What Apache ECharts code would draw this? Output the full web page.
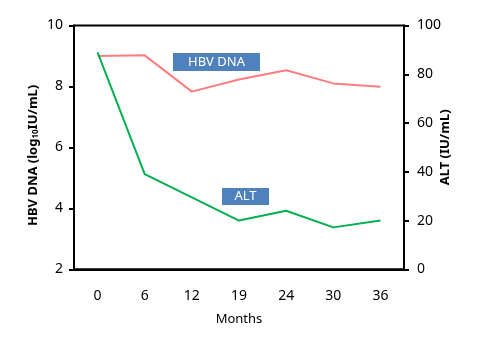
<!DOCTYPE html>
<html><head><meta charset="utf-8">
<script src="https://cdn.jsdelivr.net/npm/echarts@6/dist/echarts.min.js"></script>
<style>html,body{margin:0;padding:0;background:#fff;}#c{width:484px;height:345px;}</style>
</head><body><div id="c"></div>
<script>
const months = ['0', '6', '12', '19', '24', '30', '36'];
const hbvDna = [9.0, 9.02, 7.83, 8.23, 8.53, 8.1, 7.99];
const alt = [89, 39, 29.5, 20, 24, 17.2, 20];
const leftTicks = [2, 4, 6, 8, 10];
const rightTicks = [0, 20, 40, 60, 80, 100];

const FONT = '"Noto Sans", "Open Sans", sans-serif';
const chart = echarts.init(document.getElementById('c'), null, {renderer: 'canvas'});
chart.setOption({
  animation: false,
  backgroundColor: '#fff',
  grid: {left: 74, right: 80, top: 25.5, bottom: 75.7, show: true, borderColor: '#000', borderWidth: 2, backgroundColor: 'transparent'},
  xAxis: {
    type: 'category', data: months, boundaryGap: true,
    name: 'Months', nameLocation: 'middle', nameGap: 43,
    nameTextStyle: {fontFamily: FONT, fontSize: 13, color: '#000'},
    axisLine: {lineStyle: {color: '#000', width: 2}},
    axisTick: {show: false},
    axisLabel: {margin: 20, fontFamily: FONT, fontSize: 14, color: '#000'}
  },
  yAxis: [{
    type: 'value', min: 2, max: 10, interval: 2, position: 'left',
    name: 'HBV DNA (log{sub|10}IU/mL)', nameLocation: 'middle', nameGap: 34, nameRotate: 90,
    nameMoveOverlap: false,
    nameTextStyle: {fontFamily: FONT, fontSize: 13, fontWeight: 'bold', color: '#000', padding: [0, 16, 0, 0],
      rich: {sub: {fontSize: 8, fontWeight: 'bold', fontFamily: FONT, verticalAlign: 'bottom'}}},
    axisLine: {show: true, lineStyle: {color: '#000', width: 2}},
    axisTick: {show: true, length: 5, lineStyle: {color: '#000', width: 2}},
    splitLine: {show: false},
    axisLabel: {margin: 11, fontFamily: FONT, fontSize: 14, color: '#000'}
  }, {
    type: 'value', min: 0, max: 100, interval: 20, position: 'right',
    name: 'ALT (IU/mL)', nameLocation: 'middle', nameGap: 35, nameRotate: 90,
    nameMoveOverlap: false,
    nameTextStyle: {fontFamily: FONT, fontSize: 13, fontWeight: 'bold', color: '#000'},
    axisLine: {show: true, lineStyle: {color: '#000', width: 2}},
    axisTick: {show: true, length: 5, lineStyle: {color: '#000', width: 2}},
    splitLine: {show: false},
    axisLabel: {margin: 13, fontFamily: FONT, fontSize: 14, color: '#000'}
  }],
  series: [{
    name: 'HBV DNA', type: 'line', yAxisIndex: 0, data: hbvDna,
    symbol: 'none', lineStyle: {color: '#FF7C80', width: 2}
  }, {
    name: 'ALT', type: 'line', yAxisIndex: 1, data: alt,
    symbol: 'none', lineStyle: {color: '#00B050', width: 2}
  }],
  graphic: [
    {type: 'rect', shape: {x: 173, y: 53, width: 87, height: 18}, style: {fill: '#4F81BD'}},
    {type: 'text', x: 216.5, y: 62, style: {text: 'HBV DNA', fill: '#fff', font: '13px ' + FONT, textAlign: 'center', textVerticalAlign: 'middle'}},
    {type: 'rect', shape: {x: 222, y: 188, width: 47, height: 17}, style: {fill: '#4F81BD'}},
    {type: 'text', x: 245.5, y: 196.5, style: {text: 'ALT', fill: '#fff', font: '13px ' + FONT, textAlign: 'center', textVerticalAlign: 'middle'}}
  ]
});
</script></body></html>
